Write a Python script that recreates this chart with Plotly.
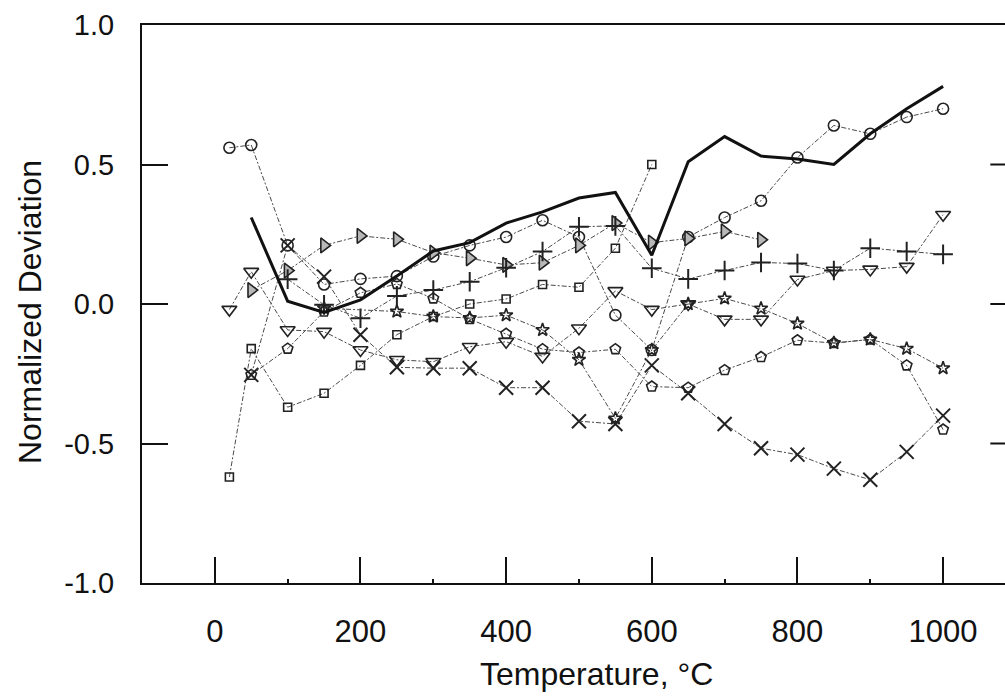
import plotly.graph_objects as go

# Temperature grid (°C) shared by all series; None = no measurement
temps = [20, 50, 100, 150, 200, 250, 300, 350, 400, 450, 500,
         550, 600, 650, 700, 750, 800, 850, 900, 950, 1000]

mean_curve = [None, 0.31, 0.01, -0.03, 0.015, 0.10, 0.19, 0.22, 0.29, 0.33, 0.38,
              0.40, 0.175, 0.51, 0.60, 0.53, 0.52, 0.50, 0.61, 0.70, 0.78]
circle_vals = [0.56, 0.57, 0.21, 0.07, 0.09, 0.10, 0.17, 0.21, 0.24, 0.30, 0.24,
               -0.04, -0.165, 0.24, 0.31, 0.37, 0.525, 0.64, 0.61, 0.67, 0.70]
pentagon_vals = [None, -0.254, -0.16, -0.027, 0.04, 0.072, 0.02, -0.054, -0.107, -0.162, -0.174,
                 -0.162, -0.296, -0.30, -0.237, -0.19, -0.13, -0.14, -0.127, -0.22, -0.45]
square_vals = [-0.62, -0.16, -0.37, -0.32, -0.22, -0.11, -0.045, 0.0, 0.018, 0.07, 0.06,
               0.20, 0.50, None, None, None, None, None, None, None, None]
tri_down_vals = [-0.02, 0.116, -0.093, -0.099, -0.165, -0.20, -0.207, -0.153, -0.135, -0.188, -0.087,
                 0.047, -0.02, 0.0, -0.055, -0.055, 0.088, 0.12, 0.124, 0.134, 0.32]
tri_right_vals = [None, 0.05, 0.12, 0.21, 0.244, 0.232, 0.184, 0.164, 0.14, 0.148, 0.21,
                  0.29, 0.22, 0.235, 0.26, 0.23, None, None, None, None, None]
plus_vals = [None, None, 0.089, -0.003, -0.051, 0.029, 0.05, 0.08, 0.13, 0.188, 0.277,
             0.28, 0.128, 0.09, 0.12, 0.149, 0.145, 0.12, 0.20, 0.188, 0.178]
cross_vals = [None, -0.254, 0.21, 0.098, -0.11, -0.227, -0.23, -0.23, -0.30, -0.30, -0.42,
              -0.43, -0.22, -0.32, -0.43, -0.517, -0.54, -0.59, -0.63, -0.53, -0.40]
star_vals = [None, None, None, -0.015, None, -0.027, -0.045, -0.05, -0.04, -0.093, -0.20,
             -0.41, -0.165, 0.0, 0.02, -0.016, -0.07, -0.14, -0.127, -0.16, -0.23]

y_ticks = [-1.0, -0.5, 0.0, 0.5, 1.0]
y_tick_text = ["-1.0", "-0.5", "0.0", "0.5", "1.0"]

DASH = "5px,2px,2px,2px"
LINE_COL = "#4a4a4a"

marker_series = [
    (square_vals, "square-open", 8, None, 1.6),
    (pentagon_vals, "pentagon-open", 11, None, 1.6),
    (circle_vals, "circle-open", 11, None, 1.6),
    (tri_down_vals, "triangle-down-open", 13, None, 1.6),
    (tri_right_vals, "triangle-right", 13, "#b8b8b8", 1.6),
    (plus_vals, "cross-thin-open", 14, None, 2.0),
    (cross_vals, "x-thin-open", 14, None, 2.0),
    (star_vals, "star-open", 10, None, 1.6),
]

fig = go.Figure()

for vals, sym, size, fill, lw in marker_series:
    marker = dict(symbol=sym, size=size, line=dict(color="#222", width=lw),
                  color=fill if fill else "#222")
    fig.add_trace(go.Scatter(
        x=temps, y=vals, mode="lines+markers", connectgaps=True,
        line=dict(color=LINE_COL, width=1, dash=DASH),
        marker=marker, showlegend=False, hoverinfo="x+y",
    ))

fig.add_trace(go.Scatter(
    x=temps, y=mean_curve, mode="lines", connectgaps=False,
    line=dict(color="#111", width=3), showlegend=False,
))

FONT = "Liberation Sans, Arial, sans-serif"
PLOT_W = 1005 - 142
PLOT_H = 583 - 25

# short inward ticks on the right-hand side of the frame
shapes = []
for yv in [-0.5, 0.0, 0.5]:
    shapes.append(dict(type="line", xref="paper", yref="y", x0=0.983, x1=1.0,
                       y0=yv, y1=yv, line=dict(color="#111", width=2)))

fig.update_layout(
    width=1005, height=696,
    margin=dict(l=142, r=0, t=25, b=113),
    paper_bgcolor="white", plot_bgcolor="white",
    font=dict(family=FONT, size=30, color="#111"),
    shapes=shapes,
    annotations=[
        dict(text="Temperature, °C", xref="paper", yref="paper",
             x=(596 - 142) / PLOT_W, y=(583 - 674) / PLOT_H,
             xanchor="center", yanchor="middle",
             showarrow=False, font=dict(family=FONT, size=32, color="#111")),
        dict(text="Normalized Deviation", xref="paper", yref="paper",
             x=(30 - 142) / PLOT_W, y=(583 - 312) / PLOT_H,
             xanchor="center", yanchor="middle", textangle=-90,
             showarrow=False, font=dict(family=FONT, size=32, color="#111")),
    ],
)

fig.update_xaxes(
    range=[-100, 1085], showgrid=False, zeroline=False,
    showline=True, linecolor="#111", linewidth=2, mirror=True,
    ticks="inside", ticklen=26, tickwidth=2, tickcolor="#111",
    tick0=0, dtick=200, ticklabelstandoff=20,
    tickfont=dict(family=FONT, size=31, color="#111"),
    minor=dict(ticks="inside", ticklen=4, tickwidth=1.5, tickcolor="#111", dtick=100, tick0=0),
)
fig.update_yaxes(
    range=[-1.0, 1.0], showgrid=False, zeroline=False,
    showline=True, linecolor="#111", linewidth=2, mirror=False,
    ticks="inside", ticklen=26, tickwidth=2, tickcolor="#111",
    tickvals=y_ticks, ticktext=y_tick_text, ticklabelstandoff=20,
    tickfont=dict(family=FONT, size=29, color="#111"),
)

fig.write_html("out.html")
